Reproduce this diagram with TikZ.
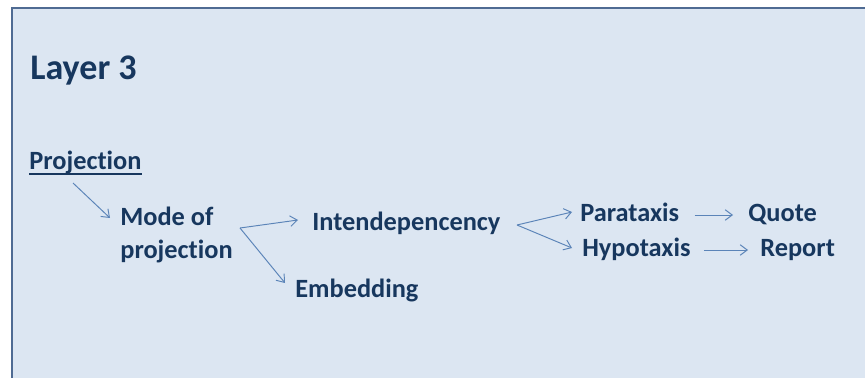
\documentclass[tikz,border=0pt]{standalone}
\usepackage{fontspec}
\setmainfont{Carlito}[Ligatures={NoCommon}]
\usetikzlibrary{arrows.meta}
\definecolor{panelfill}{HTML}{DCE6F2}
\definecolor{panelline}{HTML}{4F6B93}
\definecolor{navytext}{HTML}{17375E}
\definecolor{arrowblue}{HTML}{5B84B8}
\tikzset{
  term/.style={anchor=base west,inner sep=0pt,text=navytext,
    font=\fontsize{15}{18.5}\selectfont\bfseries},
  link/.style={->,draw=arrowblue,line width=0.55pt}
}
\begin{document}
\begin{tikzpicture}[x=0.02cm,y=-0.02cm,>={Straight Barb[length=4pt,width=6pt]}]
    \useasboundingbox (0,0) rectangle (865,378);
    % panel
    \fill[panelfill] (12,8) rectangle (870,383);
    \draw[panelline,line width=1.2pt] (12,383) -- (12,8) -- (870,8);
    % texts
    \path (30,80) node[term,font=\fontsize{20.5}{24}\selectfont\bfseries](layer){Layer 3};
    \path (29,170) node[term](proj){Projection};
    \draw[navytext,line width=0.8pt] ([yshift=-2.2pt]proj.base west) -- ([yshift=-2.2pt]proj.base east);
    \path (120,258) node[term,align=left](mode){Mode of\\projection};
    \path (312,231) node[term](inter){Intendepencency};
    \path (295,297) node[term](embed){Embedding};
    \path (580,221) node[term](para){Parataxis};
    \path (582,256) node[term](hypo){Hypotaxis};
    \path (748,221) node[term](quote){Quote};
    \path (760,256) node[term](report){Report};
    % forks
    \coordinate (modefork) at (240,228);
    \coordinate (interfork) at (517,225);
    % connectors
    \draw[link] ([shift={(44,13)}]proj.base west) -- ([shift={(-10,-40)}]mode.base west);
    \draw[link] (modefork) -- ([shift={(-14,-11)}]inter.base west);
    \draw[link] (modefork) -- ([shift={(-10,-14)}]embed.base west);
    \draw[link] (interfork) -- ([shift={(-8,-9)}]para.base west);
    \draw[link] (interfork) -- ([shift={(-10,-8)}]hypo.base west);
    \draw[link] ([shift={(15,-6)}]para.base east) -- ([shift={(-15,-6)}]quote.base west);
    \draw[link] ([shift={(13,-6)}]hypo.base east) -- ([shift={(-12,-6)}]report.base west);
  \end{tikzpicture}
\end{document}
